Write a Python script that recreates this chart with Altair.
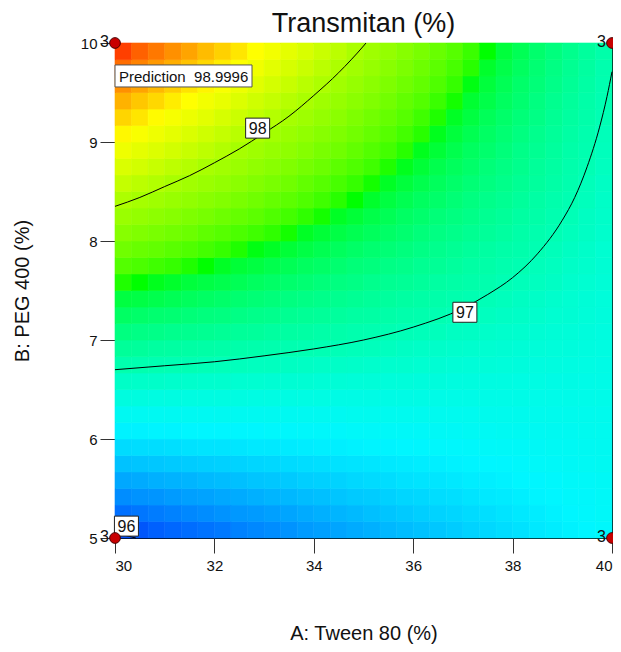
import altair as alt
import pandas as pd

# ---------------- data ----------------
A_EDGES = [30.0, 30.333, 30.667, 31.0, 31.333, 31.667, 32.0, 32.333, 32.667, 33.0, 33.333,
           33.667, 34.0, 34.333, 34.667, 35.0, 35.333, 35.667, 36.0, 36.333, 36.667,
           37.0, 37.333, 37.667, 38.0, 38.333, 38.667, 39.0, 39.333, 39.667, 40.0]
B_EDGES = [5.0, 5.167, 5.333, 5.5, 5.667, 5.833, 6.0, 6.167, 6.333, 6.5, 6.667,
           6.833, 7.0, 7.167, 7.333, 7.5, 7.667, 7.833, 8.0, 8.167, 8.333,
           8.5, 8.667, 8.833, 9.0, 9.167, 9.333, 9.5, 9.667, 9.833, 10.0]

# Transmitan (%) per cell, row 0 = bottom, column 0 = left
Z = [
    [96.03, 96.05, 96.08, 96.10, 96.12, 96.14, 96.16, 96.19, 96.21, 96.23, 96.25, 96.28, 96.30, 96.32, 96.34, 96.36, 96.39, 96.41, 96.43, 96.45, 96.47, 96.50, 96.52, 96.54, 96.56, 96.59, 96.61, 96.63, 96.65, 96.67],
    [96.13, 96.15, 96.17, 96.19, 96.21, 96.23, 96.25, 96.27, 96.28, 96.30, 96.32, 96.34, 96.36, 96.38, 96.40, 96.42, 96.44, 96.46, 96.48, 96.50, 96.51, 96.53, 96.55, 96.57, 96.59, 96.61, 96.63, 96.65, 96.67, 96.69],
    [96.23, 96.25, 96.26, 96.28, 96.30, 96.31, 96.33, 96.34, 96.36, 96.38, 96.39, 96.41, 96.42, 96.44, 96.46, 96.47, 96.49, 96.51, 96.52, 96.54, 96.55, 96.57, 96.59, 96.60, 96.62, 96.64, 96.65, 96.67, 96.68, 96.70],
    [96.33, 96.34, 96.36, 96.37, 96.38, 96.40, 96.41, 96.42, 96.44, 96.45, 96.46, 96.48, 96.49, 96.50, 96.52, 96.53, 96.54, 96.56, 96.57, 96.58, 96.59, 96.61, 96.62, 96.63, 96.65, 96.66, 96.67, 96.69, 96.70, 96.71],
    [96.43, 96.44, 96.45, 96.46, 96.47, 96.48, 96.49, 96.50, 96.51, 96.52, 96.53, 96.54, 96.55, 96.56, 96.57, 96.58, 96.59, 96.60, 96.61, 96.62, 96.63, 96.64, 96.65, 96.66, 96.67, 96.69, 96.70, 96.71, 96.72, 96.73],
    [96.53, 96.54, 96.54, 96.55, 96.56, 96.57, 96.57, 96.58, 96.59, 96.59, 96.60, 96.61, 96.62, 96.62, 96.63, 96.64, 96.64, 96.65, 96.66, 96.67, 96.67, 96.68, 96.69, 96.70, 96.70, 96.71, 96.72, 96.72, 96.73, 96.74],
    [96.63, 96.63, 96.64, 96.64, 96.65, 96.65, 96.65, 96.66, 96.66, 96.67, 96.67, 96.68, 96.68, 96.68, 96.69, 96.69, 96.70, 96.70, 96.70, 96.71, 96.71, 96.72, 96.72, 96.73, 96.73, 96.73, 96.74, 96.74, 96.75, 96.75],
    [96.73, 96.73, 96.73, 96.73, 96.73, 96.73, 96.74, 96.74, 96.74, 96.74, 96.74, 96.74, 96.74, 96.74, 96.75, 96.75, 96.75, 96.75, 96.75, 96.75, 96.75, 96.75, 96.76, 96.76, 96.76, 96.76, 96.76, 96.76, 96.76, 96.76],
    [96.83, 96.83, 96.82, 96.82, 96.82, 96.82, 96.82, 96.82, 96.81, 96.81, 96.81, 96.81, 96.81, 96.80, 96.80, 96.80, 96.80, 96.80, 96.80, 96.79, 96.79, 96.79, 96.79, 96.79, 96.79, 96.78, 96.78, 96.78, 96.78, 96.78],
    [96.93, 96.92, 96.92, 96.91, 96.91, 96.90, 96.90, 96.89, 96.89, 96.88, 96.88, 96.88, 96.87, 96.87, 96.86, 96.86, 96.85, 96.85, 96.84, 96.84, 96.83, 96.83, 96.82, 96.82, 96.81, 96.81, 96.80, 96.80, 96.79, 96.79],
    [97.03, 97.02, 97.01, 97.00, 97.00, 96.99, 96.98, 96.97, 96.96, 96.96, 96.95, 96.94, 96.93, 96.93, 96.92, 96.91, 96.90, 96.90, 96.89, 96.88, 96.87, 96.86, 96.86, 96.85, 96.84, 96.83, 96.83, 96.82, 96.81, 96.80],
    [97.13, 97.12, 97.10, 97.09, 97.08, 97.07, 97.06, 97.05, 97.04, 97.03, 97.02, 97.01, 97.00, 96.99, 96.98, 96.97, 96.96, 96.94, 96.93, 96.92, 96.91, 96.90, 96.89, 96.88, 96.87, 96.86, 96.85, 96.84, 96.83, 96.82],
    [97.23, 97.21, 97.20, 97.18, 97.17, 97.16, 97.14, 97.13, 97.12, 97.10, 97.09, 97.08, 97.06, 97.05, 97.03, 97.02, 97.01, 96.99, 96.98, 96.97, 96.95, 96.94, 96.92, 96.91, 96.90, 96.88, 96.87, 96.86, 96.84, 96.83],
    [97.33, 97.31, 97.29, 97.28, 97.26, 97.24, 97.23, 97.21, 97.19, 97.18, 97.16, 97.14, 97.13, 97.11, 97.09, 97.08, 97.06, 97.04, 97.03, 97.01, 96.99, 96.98, 96.96, 96.94, 96.93, 96.91, 96.89, 96.88, 96.86, 96.84],
    [97.42, 97.41, 97.39, 97.37, 97.35, 97.33, 97.31, 97.29, 97.27, 97.25, 97.23, 97.21, 97.19, 97.17, 97.15, 97.13, 97.11, 97.09, 97.07, 97.05, 97.03, 97.01, 96.99, 96.97, 96.95, 96.93, 96.91, 96.89, 96.87, 96.85],
    [97.52, 97.50, 97.48, 97.46, 97.43, 97.41, 97.39, 97.37, 97.34, 97.32, 97.30, 97.28, 97.25, 97.23, 97.21, 97.18, 97.16, 97.14, 97.12, 97.09, 97.07, 97.05, 97.03, 97.00, 96.98, 96.96, 96.94, 96.91, 96.89, 96.87],
    [97.62, 97.60, 97.57, 97.55, 97.52, 97.50, 97.47, 97.44, 97.42, 97.39, 97.37, 97.34, 97.32, 97.29, 97.26, 97.24, 97.21, 97.19, 97.16, 97.14, 97.11, 97.08, 97.06, 97.03, 97.01, 96.98, 96.96, 96.93, 96.91, 96.88],
    [97.72, 97.69, 97.67, 97.64, 97.61, 97.58, 97.55, 97.52, 97.49, 97.47, 97.44, 97.41, 97.38, 97.35, 97.32, 97.29, 97.27, 97.24, 97.21, 97.18, 97.15, 97.12, 97.09, 97.06, 97.04, 97.01, 96.98, 96.95, 96.92, 96.89],
    [97.82, 97.79, 97.76, 97.73, 97.70, 97.66, 97.63, 97.60, 97.57, 97.54, 97.51, 97.47, 97.44, 97.41, 97.38, 97.35, 97.32, 97.29, 97.25, 97.22, 97.19, 97.16, 97.13, 97.10, 97.06, 97.03, 97.00, 96.97, 96.94, 96.91],
    [97.92, 97.89, 97.85, 97.82, 97.78, 97.75, 97.71, 97.68, 97.65, 97.61, 97.58, 97.54, 97.51, 97.47, 97.44, 97.40, 97.37, 97.33, 97.30, 97.26, 97.23, 97.20, 97.16, 97.13, 97.09, 97.06, 97.02, 96.99, 96.95, 96.92],
    [98.02, 97.98, 97.95, 97.91, 97.87, 97.83, 97.80, 97.76, 97.72, 97.68, 97.65, 97.61, 97.57, 97.53, 97.50, 97.46, 97.42, 97.38, 97.34, 97.31, 97.27, 97.23, 97.19, 97.16, 97.12, 97.08, 97.04, 97.01, 96.97, 96.93],
    [98.12, 98.08, 98.04, 98.00, 97.96, 97.92, 97.88, 97.84, 97.80, 97.76, 97.72, 97.67, 97.63, 97.59, 97.55, 97.51, 97.47, 97.43, 97.39, 97.35, 97.31, 97.27, 97.23, 97.19, 97.15, 97.11, 97.07, 97.03, 96.98, 96.94],
    [98.22, 98.18, 98.13, 98.09, 98.05, 98.00, 97.96, 97.92, 97.87, 97.83, 97.79, 97.74, 97.70, 97.65, 97.61, 97.57, 97.52, 97.48, 97.44, 97.39, 97.35, 97.31, 97.26, 97.22, 97.18, 97.13, 97.09, 97.04, 97.00, 96.96],
    [98.32, 98.27, 98.23, 98.18, 98.13, 98.09, 98.04, 97.99, 97.95, 97.90, 97.86, 97.81, 97.76, 97.72, 97.67, 97.62, 97.58, 97.53, 97.48, 97.44, 97.39, 97.34, 97.30, 97.25, 97.20, 97.16, 97.11, 97.06, 97.02, 96.97],
    [98.42, 98.37, 98.32, 98.27, 98.22, 98.17, 98.12, 98.07, 98.02, 97.97, 97.92, 97.87, 97.82, 97.78, 97.73, 97.68, 97.63, 97.58, 97.53, 97.48, 97.43, 97.38, 97.33, 97.28, 97.23, 97.18, 97.13, 97.08, 97.03, 96.98],
    [98.52, 98.47, 98.41, 98.36, 98.31, 98.26, 98.20, 98.15, 98.10, 98.05, 97.99, 97.94, 97.89, 97.84, 97.78, 97.73, 97.68, 97.63, 97.57, 97.52, 97.47, 97.42, 97.36, 97.31, 97.26, 97.21, 97.15, 97.10, 97.05, 97.00],
    [98.62, 98.56, 98.51, 98.45, 98.40, 98.34, 98.29, 98.23, 98.17, 98.12, 98.06, 98.01, 97.95, 97.90, 97.84, 97.79, 97.73, 97.67, 97.62, 97.56, 97.51, 97.45, 97.40, 97.34, 97.29, 97.23, 97.17, 97.12, 97.06, 97.01],
    [98.72, 98.66, 98.60, 98.54, 98.48, 98.43, 98.37, 98.31, 98.25, 98.19, 98.13, 98.07, 98.02, 97.96, 97.90, 97.84, 97.78, 97.72, 97.67, 97.61, 97.55, 97.49, 97.43, 97.37, 97.31, 97.26, 97.20, 97.14, 97.08, 97.02],
    [98.82, 98.76, 98.69, 98.63, 98.57, 98.51, 98.45, 98.39, 98.33, 98.26, 98.20, 98.14, 98.08, 98.02, 97.96, 97.90, 97.83, 97.77, 97.71, 97.65, 97.59, 97.53, 97.46, 97.40, 97.34, 97.28, 97.22, 97.16, 97.10, 97.03],
    [98.92, 98.85, 98.79, 98.72, 98.66, 98.59, 98.53, 98.47, 98.40, 98.34, 98.27, 98.21, 98.14, 98.08, 98.01, 97.95, 97.89, 97.82, 97.76, 97.69, 97.63, 97.56, 97.50, 97.43, 97.37, 97.30, 97.24, 97.18, 97.11, 97.05],
]

# contour lines (A, B)
C97_A = [30, 31, 32, 33, 34, 35, 36, 37, 37.5, 38, 38.5, 39, 39.25, 39.5, 39.75, 39.9, 40]
C97_B = [6.70, 6.74, 6.78, 6.84, 6.91, 7.00, 7.13, 7.32, 7.46, 7.63, 7.87, 8.21, 8.44, 8.75, 9.15, 9.46, 9.71]
C98_A = [30, 30.5, 31, 31.5, 32, 32.5, 33, 33.5, 34, 34.5, 34.75, 35, 35.05]
C98_B = [8.35, 8.44, 8.55, 8.66, 8.79, 8.93, 9.09, 9.26, 9.47, 9.70, 9.83, 9.97, 10.0]
C96_A = [30, 30.2, 30.42]
C96_B = [5.05, 5.027, 5.0]

# contour labels
LABEL_TEXT = ["98", "97", "96"]
LABEL_A = [32.87, 37.04, 30.23]
LABEL_B = [9.14, 7.28, 5.12]

# design points (3 runs each)
PT_A = [30, 30, 40, 40]
PT_B = [5, 10, 5, 10]
PT_N = ["3", "3", "3", "3"]

# prediction flag
PRED_TEXT = "Prediction\u00a0\u00a098.9996"
PRED_A = 30
PRED_B = 9.667

X_TICKS = [30, 32, 34, 36, 38, 40]
Y_TICKS = [5, 6, 7, 8, 9, 10]

COLOR_DOMAIN = [95.97, 96.3, 96.65, 97.0, 97.5, 98.0, 98.4, 98.7, 98.95]
COLOR_RANGE = ["#0036f0", "#00a0ff", "#00f6ff", "#00ffb4", "#00ff00",
               "#a8ff00", "#ffff00", "#ff9600", "#ff2a00"]

FONT = "Liberation Sans"

# ---------------- tables ----------------
cells = []
for j in range(len(B_EDGES) - 1):
    for i in range(len(A_EDGES) - 1):
        cells.append({"a0": A_EDGES[i], "a1": A_EDGES[i + 1],
                      "b0": B_EDGES[j], "b1": B_EDGES[j + 1], "z": Z[j][i]})
cells = pd.DataFrame(cells)

lines = []
for lvl, xs, ys in [("97", C97_A, C97_B), ("98", C98_A, C98_B), ("96", C96_A, C96_B)]:
    for k, (a, b) in enumerate(zip(xs, ys)):
        lines.append({"level": lvl, "k": k, "A": a, "B": b})
lines = pd.DataFrame(lines)

labels = pd.DataFrame({"t": LABEL_TEXT, "A": LABEL_A, "B": LABEL_B})
pts = pd.DataFrame({"A": PT_A, "B": PT_B, "n": PT_N})
pred = pd.DataFrame({"t": [PRED_TEXT], "A": [PRED_A], "B": [PRED_B]})

xscale = alt.Scale(domain=[30, 40], nice=False, zero=False)
yscale = alt.Scale(domain=[5, 10], nice=False, zero=False)
cscale = alt.Scale(domain=COLOR_DOMAIN, range=COLOR_RANGE, clamp=True)

xaxis = alt.Axis(title="A: Tween 80 (%)", values=X_TICKS, format="d", grid=False, domain=False,
                 tickSize=15, tickColor="#333", labelFontSize=15, labelColor="#111",
                 labelFont=FONT, labelPadding=5, titleFont=FONT, titleFontSize=20,
                 titleFontWeight="normal", titleColor="#111", titlePadding=50)
yaxis = alt.Axis(title="B: PEG 400 (%)", values=Y_TICKS, format="d", grid=False, domain=False,
                 tickSize=15, tickColor="#333", labelFontSize=15, labelColor="#111",
                 labelFont=FONT, labelPadding=3, titleFont=FONT, titleFontSize=20,
                 titleFontWeight="normal", titleColor="#111", titlePadding=48)

heat = alt.Chart(cells).mark_rect(strokeWidth=0.6).encode(
    x=alt.X("a0:Q", scale=xscale, axis=xaxis),
    x2="a1:Q",
    y=alt.Y("b0:Q", scale=yscale, axis=yaxis),
    y2="b1:Q",
    color=alt.Color("z:Q", scale=cscale, legend=None),
    stroke=alt.Stroke("z:Q", scale=cscale, legend=None),
)

contours = alt.Chart(lines).mark_line(color="black", strokeWidth=1, interpolate="monotone").encode(
    x=alt.X("A:Q", scale=xscale),
    y=alt.Y("B:Q", scale=yscale),
    detail="level:N",
    order="k:Q",
)

boxes = alt.Chart(labels).mark_rect(fill="white", stroke="#222", strokeWidth=1,
                                    xOffset=-12, x2Offset=12, yOffset=-10, y2Offset=10).encode(
    x=alt.X("A:Q", scale=xscale), x2="A:Q",
    y=alt.Y("B:Q", scale=yscale), y2="B:Q",
)
box_text = alt.Chart(labels).mark_text(font=FONT, fontSize=16, color="#111",
                                       baseline="middle", align="center", dy=1).encode(
    x=alt.X("A:Q", scale=xscale), y=alt.Y("B:Q", scale=yscale), text="t:N",
)

pred_box = alt.Chart(pred).mark_rect(fill="white", stroke="#555", strokeWidth=1,
                                     x2Offset=137, yOffset=-11, y2Offset=11).encode(
    x=alt.X("A:Q", scale=xscale), x2="A:Q",
    y=alt.Y("B:Q", scale=yscale), y2="B:Q",
)
pred_text = alt.Chart(pred).mark_text(font=FONT, fontSize=15, color="#111",
                                      baseline="middle", align="left", dx=4, dy=1).encode(
    x=alt.X("A:Q", scale=xscale), y=alt.Y("B:Q", scale=yscale), text="t:N",
)

dots = alt.Chart(pts).mark_point(filled=True, fill="#c80000", stroke="#4a0000",
                                 strokeWidth=1, size=115, opacity=1, shape="circle").encode(
    x=alt.X("A:Q", scale=xscale), y=alt.Y("B:Q", scale=yscale),
)
counts = alt.Chart(pts).mark_text(font=FONT, fontSize=16, color="#111",
                                  align="right", baseline="middle", dx=-6, dy=-1).encode(
    x=alt.X("A:Q", scale=xscale), y=alt.Y("B:Q", scale=yscale), text="n:N",
)

chart = alt.layer(heat, contours, boxes, box_text, pred_box, pred_text, dots, counts).properties(
    width=497, height=495,
    title=alt.TitleParams("Transmitan (%)", font=FONT, fontSize=27, fontWeight="normal",
                          color="#111", anchor="middle", offset=-4),
    autosize=alt.AutoSizeParams(type="none"),
    padding={"left": 107, "top": 35, "right": 1, "bottom": 110},
    background="white",
).configure_view(stroke="black", strokeWidth=1)

chart.save("out.html", embed_options={"renderer": "svg", "actions": False})
